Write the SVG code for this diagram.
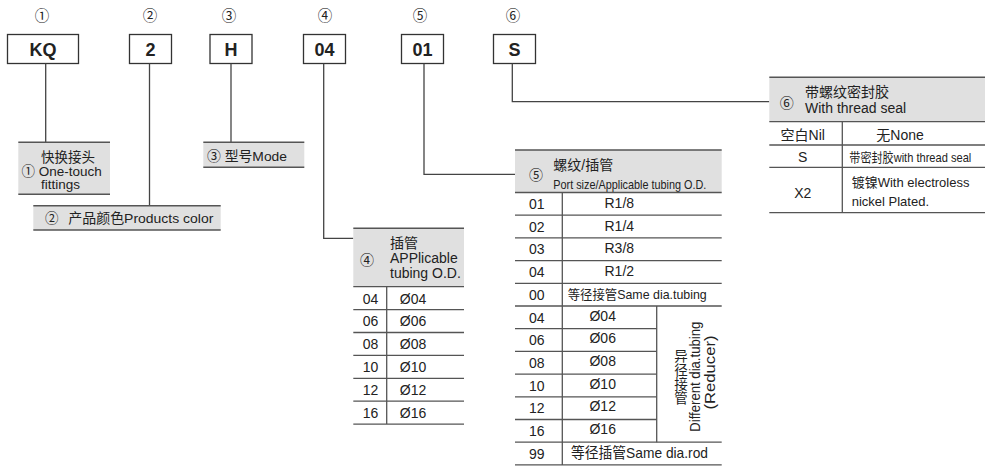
<svg xmlns="http://www.w3.org/2000/svg" width="1000" height="470" viewBox="0 0 1000 470">
<style>
text{font-family:"Liberation Sans","Noto Sans CJK SC",sans-serif;fill:#222}
.num{font-size:14.5px;text-anchor:middle}
.code{font-size:18px;font-weight:bold;text-anchor:middle}
.box{fill:#fff;stroke:#333;stroke-width:1.3}
.hdr{fill:#e0e0e0}
.bl{stroke:#555;stroke-width:1.5}
.rl{stroke:#555;stroke-width:1.3}
.t{font-size:14px}
.tc{font-size:14px;text-anchor:middle}
.conn{fill:none;stroke:#444;stroke-width:1.3}
</style>
<g id="top">
<text class="num" x="42" y="21">①</text>
<text class="num" x="150" y="21">②</text>
<text class="num" x="229" y="21">③</text>
<text class="num" x="325" y="21">④</text>
<text class="num" x="420" y="21">⑤</text>
<text class="num" x="513" y="21">⑥</text>
</g>
<g id="n-kq"><rect class="box" x="7.5" y="34.5" width="71" height="29"/><text class="code" x="43" y="55.5">KQ</text></g>
<g id="n-2"><rect class="box" x="129.5" y="34.5" width="42" height="29"/><text class="code" x="150.5" y="55.5">2</text></g>
<g id="n-h"><rect class="box" x="210" y="34.5" width="42" height="29"/><text class="code" x="231" y="56">H</text></g>
<g id="n-04"><rect class="box" x="303.5" y="34.5" width="42" height="29"/><text class="code" x="324.5" y="55.5">04</text></g>
<g id="n-01"><rect class="box" x="401.5" y="34.5" width="42" height="29"/><text class="code" x="422.5" y="55.5">01</text></g>
<g id="n-s"><rect class="box" x="493.5" y="34.5" width="42" height="29"/><text class="code" x="514.5" y="55.5">S</text></g>

<g id="connectors">
<path class="conn" d="M45.7,63.5V142.3"/>
<path class="conn" d="M149.5,63.5V205.7"/>
<path class="conn" d="M231,63.5V142.3"/>
<path class="conn" d="M323.7,63.5V238.3H353.3"/>
<path class="conn" d="M424,63.5V174.3H515"/>
<path class="conn" d="M512.3,63.5V101.7H769.3"/>
</g>

<g id="l-1">
<rect class="hdr" x="18.3" y="142.3" width="91.7" height="52"/>
<line class="bl" x1="18.3" y1="142.3" x2="110" y2="142.3"/>
<line class="bl" x1="18.3" y1="194.3" x2="110" y2="194.3"/>
<text x="68" y="162" font-size="13.5" text-anchor="middle">快换接头</text>
<text x="21.5" y="176" font-size="13.5">① One-touch</text>
<text x="41" y="189" font-size="13.5">fittings</text>
</g>
<g id="l-2">
<rect class="hdr" x="33.3" y="205.7" width="187.4" height="24.3"/>
<line class="bl" x1="33.3" y1="205.7" x2="220.7" y2="205.7"/>
<line class="bl" x1="33.3" y1="230" x2="220.7" y2="230"/>
<text x="45" y="223" font-size="13.5">②</text>
<text x="68.3" y="223" font-size="13.5" textLength="145" lengthAdjust="spacingAndGlyphs">产品颜色Products color</text>
</g>
<g id="l-3">
<rect class="hdr" x="203.3" y="142.3" width="101" height="25"/>
<line class="bl" x1="203.3" y1="142.3" x2="304.3" y2="142.3"/>
<line class="bl" x1="203.3" y1="167.3" x2="304.3" y2="167.3"/>
<text x="207" y="161" font-size="13.5" textLength="80" lengthAdjust="spacingAndGlyphs">③ 型号Mode</text>
</g>

<g id="t-4">
<rect class="hdr" x="353.3" y="228.3" width="110.7" height="58.4"/>
<line class="bl" x1="353.3" y1="228.3" x2="464" y2="228.3"/>
<text x="367" y="265" class="tc">④</text>
<text x="390" y="248" class="t">插管</text>
<text x="390" y="262.5" class="t">APPlicable</text>
<text x="390" y="278" class="t">tubing O.D.</text>
<g class="rl">
<line x1="353.3" y1="286.7" x2="464" y2="286.7"/>
<line x1="353.3" y1="309.6" x2="464" y2="309.6"/>
<line x1="353.3" y1="332.5" x2="464" y2="332.5"/>
<line x1="353.3" y1="355.4" x2="464" y2="355.4"/>
<line x1="353.3" y1="378.3" x2="464" y2="378.3"/>
<line x1="353.3" y1="401.2" x2="464" y2="401.2"/>
<line x1="353.3" y1="424.1" x2="464" y2="424.1"/>
<line x1="386.7" y1="286.7" x2="386.7" y2="424.1"/>
</g>
<text class="tc" x="370.5" y="303.5">04</text><text class="tc" x="413" y="303.5">Ø04</text>
<text class="tc" x="370.5" y="326.4">06</text><text class="tc" x="413" y="326.4">Ø06</text>
<text class="tc" x="370.5" y="349.3">08</text><text class="tc" x="413" y="349.3">Ø08</text>
<text class="tc" x="370.5" y="372.2">10</text><text class="tc" x="413" y="372.2">Ø10</text>
<text class="tc" x="370.5" y="395.1">12</text><text class="tc" x="413" y="395.1">Ø12</text>
<text class="tc" x="370.5" y="418">16</text><text class="tc" x="413" y="418">Ø16</text>
</g>

<g id="t-5">
<rect class="hdr" x="515" y="150" width="206.7" height="42.5"/>
<line class="bl" x1="515" y1="150" x2="721.7" y2="150"/>
<text x="536" y="180" class="tc">⑤</text>
<text x="553.3" y="170" class="t">螺纹/插管</text>
<text x="553.3" y="189" font-size="13" textLength="153" lengthAdjust="spacingAndGlyphs">Port size/Applicable tubing O.D.</text>
<g class="rl">
<line x1="515" y1="192.5" x2="721.7" y2="192.5"/>
<line x1="515" y1="215.2" x2="721.7" y2="215.2"/>
<line x1="515" y1="237.9" x2="721.7" y2="237.9"/>
<line x1="515" y1="260.6" x2="721.7" y2="260.6"/>
<line x1="515" y1="283.3" x2="721.7" y2="283.3"/>
<line x1="515" y1="306" x2="721.7" y2="306"/>
<line x1="515" y1="328.7" x2="656.7" y2="328.7"/>
<line x1="515" y1="351.4" x2="656.7" y2="351.4"/>
<line x1="515" y1="374.1" x2="656.7" y2="374.1"/>
<line x1="515" y1="396.8" x2="656.7" y2="396.8"/>
<line x1="515" y1="419.5" x2="656.7" y2="419.5"/>
<line x1="515" y1="442.2" x2="721.7" y2="442.2"/>
<line x1="515" y1="464.9" x2="721.7" y2="464.9"/>
<line x1="562.3" y1="192.5" x2="562.3" y2="464.9"/>
<line x1="656.7" y1="306" x2="656.7" y2="442.2"/>
</g>
<text class="tc" x="536.7" y="209">01</text><text class="tc" x="619.3" y="208">R1/8</text>
<text class="tc" x="536.7" y="231.7">02</text><text class="tc" x="619.3" y="230.7">R1/4</text>
<text class="tc" x="536.7" y="254.4">03</text><text class="tc" x="619.3" y="253.4">R3/8</text>
<text class="tc" x="536.7" y="277.1">04</text><text class="tc" x="619.3" y="276.1">R1/2</text>
<text class="tc" x="536.7" y="299.8">00</text><text x="567.7" y="299" font-size="13" textLength="139" lengthAdjust="spacingAndGlyphs">等径接管Same dia.tubing</text>
<text class="tc" x="536.7" y="322.5">04</text><text class="tc" x="602.7" y="320.5">Ø04</text>
<text class="tc" x="536.7" y="345.2">06</text><text class="tc" x="602.7" y="343.2">Ø06</text>
<text class="tc" x="536.7" y="367.9">08</text><text class="tc" x="602.7" y="365.9">Ø08</text>
<text class="tc" x="536.7" y="390.6">10</text><text class="tc" x="602.7" y="388.6">Ø10</text>
<text class="tc" x="536.7" y="413.3">12</text><text class="tc" x="602.7" y="411.3">Ø12</text>
<text class="tc" x="536.7" y="436">16</text><text class="tc" x="602.7" y="434">Ø16</text>
<text class="tc" x="536.7" y="458.7">99</text><text x="571" y="458" font-size="15" textLength="137" lengthAdjust="spacingAndGlyphs">等径插管Same dia.rod</text>
<g font-size="13.5" text-anchor="middle">
<text x="681" y="361">异</text>
<text x="681" y="375">径</text>
<text x="681" y="389">接</text>
<text x="681" y="403">管</text>
</g>
<text transform="translate(699.5,376.7) rotate(-90)" font-size="14.5" text-anchor="middle" textLength="110" lengthAdjust="spacingAndGlyphs">Different dia.tubing</text>
<text transform="translate(715,372.5) rotate(-90)" font-size="14.5" text-anchor="middle" textLength="74" lengthAdjust="spacingAndGlyphs">(Reducer)</text>
</g>

<g id="t-6">
<rect class="hdr" x="769.3" y="77.3" width="215.7" height="44.4"/>
<line class="bl" x1="769.3" y1="77.3" x2="985" y2="77.3"/>
<text x="786.7" y="108" class="tc">⑥</text>
<text x="805" y="97" class="t">带螺纹密封胶</text>
<text x="805" y="113" class="t">With thread seal</text>
<g class="rl">
<line x1="769.3" y1="121.7" x2="985" y2="121.7"/>
<line x1="769.3" y1="145" x2="985" y2="145"/>
<line x1="769.3" y1="167.3" x2="985" y2="167.3"/>
<line x1="769.3" y1="212.7" x2="985" y2="212.7"/>
<line x1="842.3" y1="121.7" x2="842.3" y2="212.7"/>
</g>
<text class="tc" x="802.7" y="139.5">空白Nil</text>
<text class="tc" x="900" y="139.5">无None</text>
<text class="tc" x="802.7" y="162">S</text>
<text x="849.3" y="161.5" font-size="13" textLength="122" lengthAdjust="spacingAndGlyphs">带密封胶with thread seal</text>
<text class="tc" x="802.7" y="198" font-size="15">X2</text>
<text x="851.7" y="187" font-size="13">镀镍With electroless</text>
<text x="851.7" y="205.5" font-size="13">nickel Plated.</text>
</g>
</svg>
